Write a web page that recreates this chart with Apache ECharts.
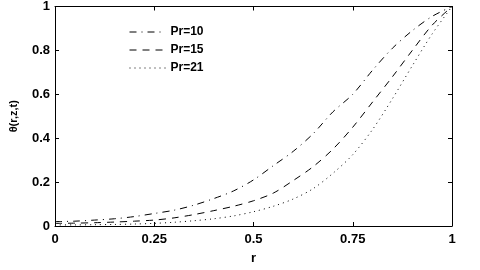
<!DOCTYPE html>
<html><head><meta charset="utf-8">
<script src="https://cdn.jsdelivr.net/npm/echarts@6/dist/echarts.min.js"></script>
<style>html,body{margin:0;padding:0;background:#fff}#c{width:480px;height:270px}</style>
</head><body><div id="c"></div>
<script>
const rValues = [0,0.05,0.1,0.15,0.2,0.25,0.3,0.35,0.4,0.45,0.5,0.55,0.6,0.65,0.7,0.75,0.8,0.85,0.9,0.95,1];
const pr10 = [0.02,0.022,0.027,0.033,0.043,0.057,0.072,0.095,0.125,0.16,0.21,0.275,0.34,0.42,0.52,0.60,0.71,0.81,0.89,0.955,1.0];
const pr15 = [0.012,0.013,0.015,0.018,0.022,0.027,0.037,0.052,0.07,0.09,0.115,0.15,0.207,0.27,0.35,0.45,0.565,0.68,0.80,0.915,1.0];
const pr21 = [0.005,0.005,0.006,0.007,0.009,0.012,0.017,0.024,0.033,0.046,0.065,0.09,0.123,0.17,0.24,0.325,0.44,0.58,0.73,0.875,1.0];
const seriesNames = ['Pr=10','Pr=15','Pr=21'];
const xTicks = ['0','0.25','0.5','0.75','1'];
const yTicks = ['0','0.2','0.4','0.6','0.8','1'];

const font = 'Liberation Sans, Arial, sans-serif';
const pairs = a => rValues.map((r,i)=>[r,a[i]]);
const dashes = [[7,5,1,5],[7,6],[1,4]];
const chart = echarts.init(document.getElementById('c'));
const axBase = () => ({
  type:'value', min:0, max:1,
  axisLine:{show:true,onZero:false,lineStyle:{color:'#000',width:1}},
  axisTick:{show:true,inside:true,length:4,lineStyle:{color:'#000'}},
  splitLine:{show:false}
});
const lblStyle = {fontFamily:font,fontWeight:'bold',fontSize:13,color:'#000'};
chart.setOption({
  animation:false,
  backgroundColor:'#fff',
  grid:{left:46,right:28,top:3,bottom:40},
  legend:{
    orient:'vertical', left:124, top:21, itemWidth:36, itemHeight:12, itemGap:6,
    itemStyle:{opacity:0},
    lineStyle:{width:1},
    textStyle:{fontFamily:font,fontWeight:'bold',fontSize:12,color:'#000'},
    data:seriesNames
  },
  xAxis:[
    Object.assign(axBase(),{interval:0.25,name:'r',nameLocation:'middle',nameGap:26,
      nameTextStyle:lblStyle,
      axisLabel:Object.assign({margin:7,formatter:v=>xTicks[Math.round(v/0.25)]},lblStyle)}),
    Object.assign(axBase(),{position:'top',interval:0.25,axisLabel:{show:false}})
  ],
  yAxis:[
    Object.assign(axBase(),{interval:0.2,name:'θ(r,z,t)',nameLocation:'middle',nameGap:36,
      nameTextStyle:{fontFamily:font,fontWeight:'bold',fontSize:11,color:'#000'},
      axisLabel:Object.assign({margin:5,formatter:v=>yTicks[Math.round(v/0.2)]},lblStyle)}),
    Object.assign(axBase(),{position:'right',interval:0.2,axisLabel:{show:false}})
  ],
  series:[pr10,pr15,pr21].map((d,i)=>({
    name:seriesNames[i], type:'line', data:pairs(d), smooth:0.3, symbol:'none',
    lineStyle:{color:'#000',width:1,type:dashes[i]}, itemStyle:{color:'#000'}
  }))
});
</script></body></html>
